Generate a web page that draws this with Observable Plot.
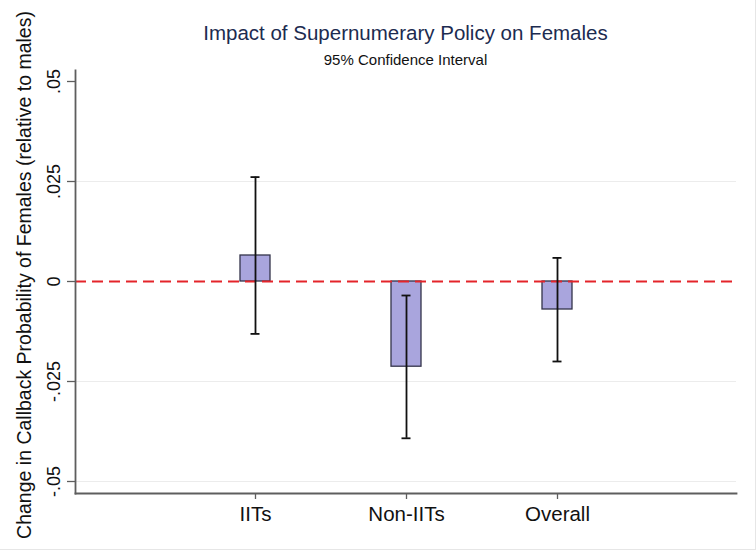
<!DOCTYPE html>
<html><head><meta charset="utf-8">
<script src="https://cdn.jsdelivr.net/npm/d3@7"></script>
<script src="https://cdn.jsdelivr.net/npm/@observablehq/plot@0.6"></script>
<style>
body{margin:0;background:#fff;font-family:"Liberation Sans",Arial,Helvetica,sans-serif;}
#wrap{width:756px;height:550px;position:relative;overflow:hidden;background:#fff;}
#head{position:relative;height:66px;}
#title{position:absolute;left:75px;width:661px;top:23px;text-align:center;font-size:20.5px;line-height:20px;color:#1c2b50;white-space:nowrap;}
#subtitle{position:absolute;left:75px;width:661px;top:52px;text-align:center;font-size:15px;line-height:15px;color:#111;white-space:nowrap;}
#border{position:absolute;left:0;top:0;width:756px;height:550px;box-sizing:border-box;border-right:1px solid #e6e6e6;border-bottom:1px solid #e6e6e6;pointer-events:none;}
</style></head><body>
<div id="wrap">
  <div id="head">
    <div id="title">Impact of Supernumerary Policy on Females</div>
    <div id="subtitle">95% Confidence Interval</div>
  </div>
  <div id="chart"></div>
  <div id="border"></div>
</div>
<script>
const categories = ["IITs", "Non-IITs", "Overall"];
const estimates = [0.0065, -0.0213, -0.0070];
const ciLower = [-0.0131, -0.0392, -0.0200];
const ciUpper = [0.0261, -0.0035, 0.0059];
const yTickValues = [-0.05, -0.025, 0, 0.025, 0.05];
const yTickLabels = ["-.05", "-.025", "0", ".025", ".05"];
const gridValues = [-0.05, -0.025, 0.025];
const yAxisTitle = "Change in Callback Probability of Females (relative to males)";

const data = categories.map((c, i) => ({cat: c, est: estimates[i], lo: ciLower[i], hi: ciUpper[i]}));
const yTicks = yTickValues.map((v, i) => ({v, label: yTickLabels[i]}));

const axisColor = "#5e5e5e";

const chart = Plot.plot({
  width: 756,
  height: 484,
  marginTop: 4,
  marginBottom: 57,
  marginLeft: 75,
  marginRight: 20,
  style: {overflow: "visible", fontFamily: "'Liberation Sans', Arial, sans-serif", background: "transparent"},
  x: {type: "band", domain: categories, paddingInner: 0.802, paddingOuter: 1.0825, align: 0.5},
  y: {domain: [-0.053, 0.05275]},
  marks: [
    Plot.ruleY(gridValues, {stroke: "#ececec", strokeWidth: 1}),
    Plot.barY(data, {x: "cat", y: "est", fill: "#a9a5dd", stroke: "#33334a", strokeWidth: 1.3}),
    Plot.ruleY([0], {stroke: "#e4242a", strokeWidth: 2, strokeDasharray: "11,6"}),
    Plot.ruleX(data, {x: "cat", y1: "lo", y2: "hi", stroke: "#111", strokeWidth: 1.8}),
    Plot.tickY(data, {x: "cat", y: "hi", insetLeft: 10.5, insetRight: 10.5, stroke: "#111", strokeWidth: 1.8}),
    Plot.tickY(data, {x: "cat", y: "lo", insetLeft: 10.5, insetRight: 10.5, stroke: "#111", strokeWidth: 1.8}),
    Plot.axisY({ticks: yTickValues, tickSize: 8, tickFormat: () => "", label: null, stroke: axisColor, strokeWidth: 1.3}),
    Plot.text(yTicks, {y: "v", text: "label", frameAnchor: "left", dx: -21, rotate: -90, textAnchor: "middle", lineAnchor: "middle", fontSize: 18, fill: "#111"}),
    Plot.text([yAxisTitle], {text: d => d, frameAnchor: "left", dx: -51, dy: -7, rotate: -90, textAnchor: "middle", lineAnchor: "middle", fontSize: 19.5, fill: "#111"}),
    Plot.axisX({tickSize: 6, tickPadding: 7, fontSize: 20.5, label: null, stroke: axisColor, strokeWidth: 1.3, fill: "#111"}),
    Plot.frame({anchor: "left", stroke: axisColor, strokeWidth: 1.8}),
    Plot.frame({anchor: "bottom", stroke: axisColor, strokeWidth: 1.8})
  ]
});
document.getElementById("chart").appendChild(chart);
</script>
</body></html>
